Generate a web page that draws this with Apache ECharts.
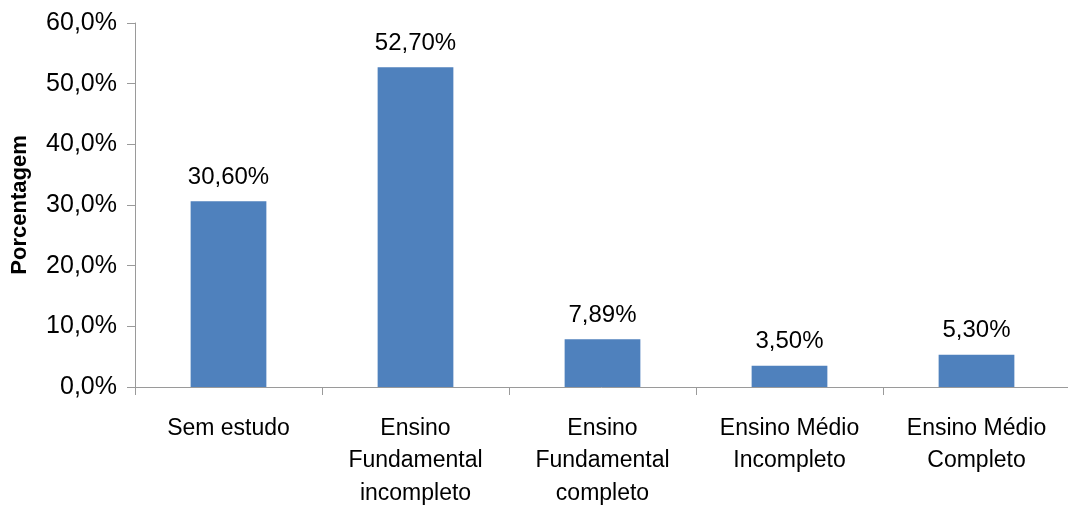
<!DOCTYPE html>
<html>
<head>
<meta charset="utf-8">
<script src="https://cdn.jsdelivr.net/npm/echarts@6/dist/echarts.min.js"></script>
<style>
  html, body { margin: 0; padding: 0; background: #ffffff; }
  #chart { width: 1068px; height: 507px; }
</style>
</head>
<body>
<div id="chart"></div>
<script>
// Escolaridade: categorias e percentuais
const categories = [
  'Sem estudo',
  'Ensino\nFundamental\nincompleto',
  'Ensino\nFundamental\ncompleto',
  'Ensino Médio\nIncompleto',
  'Ensino Médio\nCompleto'
];
const percentages = [30.60, 52.70, 7.89, 3.50, 5.30];
const yTicks = { min: 0, max: 60, interval: 10 };
const yAxisTitle = 'Porcentagem';

const FONT = '"Liberation Sans", Arial, sans-serif';
const AXIS_GRAY = '#9a9a9a';

const fmtComma = (v, digits) => v.toFixed(digits).replace('.', ',');

const chart = echarts.init(document.getElementById('chart'), null, { renderer: 'canvas' });
chart.setOption({
  animation: false,
  backgroundColor: '#ffffff',
  grid: {
    left: 135, right: -2, top: 23, bottom: 120,
    containLabel: false,
    outerBoundsMode: 'none'
  },
  xAxis: {
    type: 'category',
    data: categories,
    axisLine: { show: true, lineStyle: { color: AXIS_GRAY, width: 1 } },
    axisTick: { show: true, length: 8, alignWithLabel: false, lineStyle: { color: AXIS_GRAY } },
    axisLabel: {
      interval: 0,
      margin: 25,
      color: '#000000',
      fontFamily: FONT,
      fontSize: 23,
      lineHeight: 32.5,
      align: 'center'
    },
    splitLine: { show: false }
  },
  yAxis: {
    type: 'value',
    min: yTicks.min,
    max: yTicks.max,
    interval: yTicks.interval,
    name: yAxisTitle,
    nameLocation: 'middle',
    nameRotate: 90,
    nameGap: 104,
    nameTextStyle: {
      color: '#000000',
      fontFamily: FONT,
      fontSize: 22,
      fontWeight: 'bold'
    },
    axisLine: { show: true, lineStyle: { color: AXIS_GRAY, width: 1 } },
    axisTick: { show: true, length: 8, lineStyle: { color: AXIS_GRAY } },
    axisLabel: {
      margin: 18,
      color: '#000000',
      fontFamily: FONT,
      fontSize: 25,
      formatter: v => fmtComma(v, 1) + '%'
    },
    splitLine: { show: false }
  },
  series: [{
    type: 'bar',
    data: percentages,
    barWidth: '40.5%',
    itemStyle: { color: '#4f81bd' },
    label: {
      show: true,
      position: 'top',
      distance: 12,
      color: '#000000',
      fontFamily: FONT,
      fontSize: 24,
      formatter: p => fmtComma(p.value, 2) + '%'
    }
  }]
});
</script>
</body>
</html>
